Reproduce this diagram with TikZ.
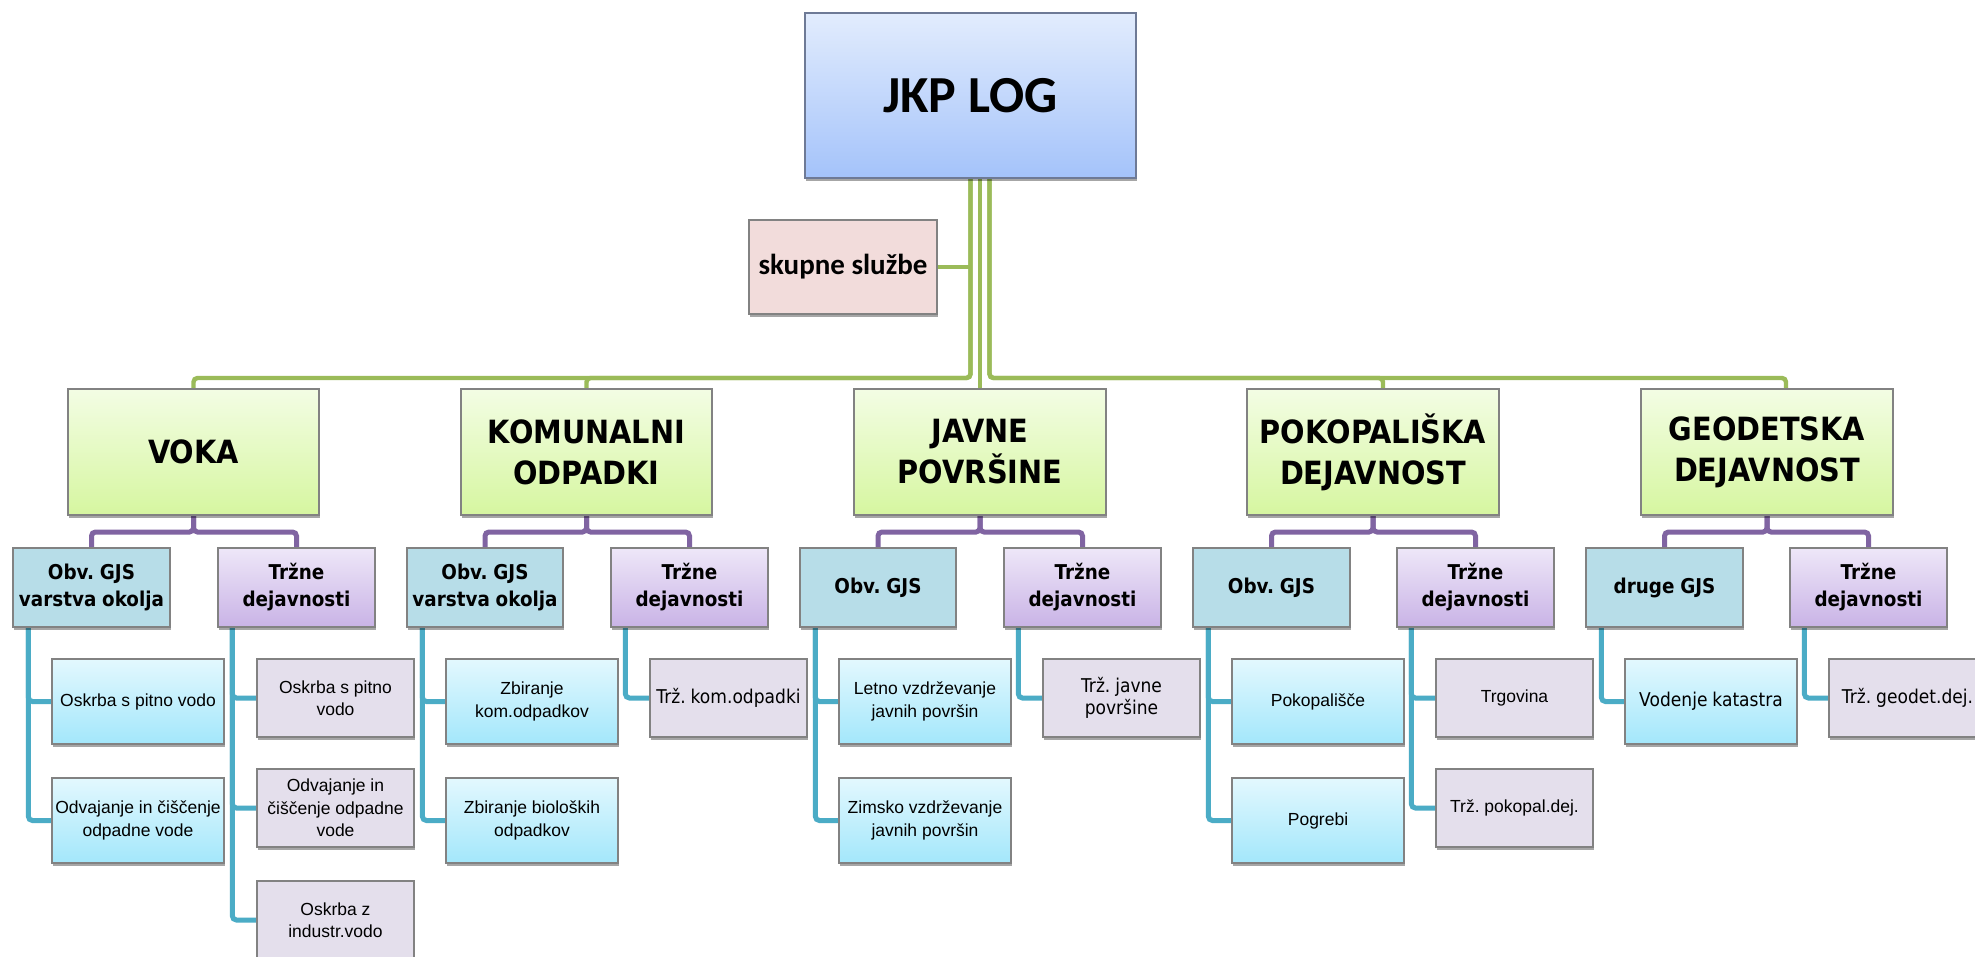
\documentclass[tikz,border=0pt]{standalone}
\usepackage{fontspec}
\setmainfont{Liberation Sans}
\newfontfamily\calfont{Carlito}
\newfontfamily\tahfont[FakeStretch=0.9,WordSpace=0.9]{DejaVu Sans}
\usetikzlibrary{shadows}
\pgfdeclarelayer{bg}
\pgfsetlayers{bg,main}
\definecolor{jkptop}{RGB}{226,236,253}
\definecolor{jkpbot}{RGB}{164,195,250}
\definecolor{jkpborder}{RGB}{110,122,150}
\definecolor{lvtop}{RGB}{243,253,228}
\definecolor{lvbot}{RGB}{214,246,160}
\definecolor{skfill}{RGB}{242,220,219}
\definecolor{obvfill}{RGB}{183,221,232}
\definecolor{trtop}{RGB}{238,231,248}
\definecolor{trbot}{RGB}{201,179,230}
\definecolor{bltop}{RGB}{227,248,254}
\definecolor{blbot}{RGB}{163,231,251}
\definecolor{plfill}{RGB}{228,223,236}
\definecolor{boxborder}{RGB}{130,130,130}
\definecolor{gcol}{RGB}{155,187,89}
\definecolor{pcol}{RGB}{128,100,162}
\definecolor{bcol}{RGB}{75,172,198}
\tikzset{
  x=0.5pt, y=-0.5pt,
  box/.style={rectangle, draw=boxborder, line width=0.6pt, inner sep=0pt, align=center,
    drop shadow={shadow xshift=0.6pt, shadow yshift=-1.5pt, opacity=0.35, fill=black}},
  jkpbox/.style={box, top color=jkptop, bottom color=jkpbot, draw=jkpborder,
    font=\calfont\bfseries\fontsize{26}{30}\selectfont},
  skbox/.style={box, fill=skfill, font=\calfont\bfseries\fontsize{14.5}{17}\selectfont},
  lvbox/.style={box, top color=lvtop, bottom color=lvbot,
    font=\tahfont\bfseries\fontsize{16}{20.5}\selectfont},
  obvbox/.style={box, fill=obvfill, font=\tahfont\bfseries\fontsize{10.2}{13.5}\selectfont},
  trbox/.style={box, top color=trtop, bottom color=trbot,
    font=\tahfont\bfseries\fontsize{10.2}{13.5}\selectfont},
  blleaf/.style={box, top color=bltop, bottom color=blbot, font=\fontsize{8.75}{11.25}\selectfont},
  plleaf/.style={box, fill=plfill, font=\fontsize{8.75}{11.25}\selectfont},
  tahtext/.style={font=\tahfont\fontsize{9.5}{11.25}\selectfont},
  gline/.style={draw=gcol, line width=2.2pt, rounded corners=2pt},
  pline/.style={draw=pcol, line width=2.5pt, rounded corners=2pt},
  bline/.style={draw=bcol, line width=2.5pt, rounded corners=2pt},
}
\newcommand{\bx}[7]{\node[#2, minimum width={(#5-#3)*0.5pt}, minimum height={(#6-#4)*0.5pt}] (#1) at ({(#3+#5)/2},{(#4+#6)/2}) {#7};}
\begin{document}
\frenchspacing
\begin{tikzpicture}
\useasboundingbox (0,0) rectangle (1975,957);
\begin{pgfonlayer}{bg}
\fill[white] (0,0) rectangle (1975,957);
\end{pgfonlayer}
% top
\bx{jkp}{jkpbox}{805}{13}{1136}{178}{JKP LOG}
\bx{sk}{skbox}{749}{220}{937}{314}{skupne službe}
% level 2
\bx{voka}{lvbox}{68}{389}{319}{515}{VOKA}
\bx{kom}{lvbox}{461}{389}{712}{515}{KOMUNALNI\\ODPADKI}
\bx{jav}{lvbox}{854}{389}{1106}{515}{JAVNE\\POVRŠINE}
\bx{pok}{lvbox}{1247}{389}{1499}{515}{POKOPALIŠKA\\DEJAVNOST}
\bx{geo}{lvbox}{1641}{389}{1893}{515}{GEODETSKA\\DEJAVNOST}
% level 3
\bx{o1}{obvbox}{13}{548}{170}{627}{Obv. GJS\\varstva okolja}
\bx{t1}{trbox}{218}{548}{375}{627}{Tržne\\dejavnosti}
\bx{o2}{obvbox}{407}{548}{563}{627}{Obv. GJS\\varstva okolja}
\bx{t2}{trbox}{611}{548}{768}{627}{Tržne\\dejavnosti}
\bx{o3}{obvbox}{800}{548}{956}{627}{Obv. GJS}
\bx{t3}{trbox}{1004}{548}{1161}{627}{Tržne\\dejavnosti}
\bx{o4}{obvbox}{1193}{548}{1350}{627}{Obv. GJS}
\bx{t4}{trbox}{1397}{548}{1554}{627}{Tržne\\dejavnosti}
\bx{o5}{obvbox}{1586}{548}{1743}{627}{druge GJS}
\bx{t5}{trbox}{1790}{548}{1947}{627}{Tržne\\dejavnosti}
% leaves VOKA
\bx{b11}{blleaf}{52}{659}{224}{744}{Oskrba s pitno vodo}
\bx{b12}{blleaf}{52}{778}{224}{863}{Odvajanje in čiščenje\\odpadne vode}
\bx{p11}{plleaf}{257}{659}{414}{737}{Oskrba s pitno\\vodo}
\bx{p12}{plleaf}{257}{769}{414}{847}{Odvajanje in\\čiščenje odpadne\\vode}
\bx{p13}{plleaf}{257}{881}{414}{959}{Oskrba z\\industr.vodo}
% leaves KOMUNALNI
\bx{b21}{blleaf}{446}{659}{618}{744}{Zbiranje\\kom.odpadkov}
\bx{b22}{blleaf}{446}{778}{618}{863}{Zbiranje bioloških\\odpadkov}
\bx{p21}{plleaf,tahtext}{650}{659}{807}{737}{Trž. kom.odpadki}
% leaves JAVNE
\bx{b31}{blleaf}{839}{659}{1011}{744}{Letno vzdrževanje\\javnih površin}
\bx{b32}{blleaf}{839}{778}{1011}{863}{Zimsko vzdrževanje\\javnih površin}
\bx{p31}{plleaf,tahtext}{1043}{659}{1200}{737}{Trž. javne\\površine}
% leaves POKOPALISKA
\bx{b41}{blleaf}{1232}{659}{1404}{744}{Pokopališče}
\bx{b42}{blleaf}{1232}{778}{1404}{863}{Pogrebi}
\bx{p41}{plleaf}{1436}{659}{1593}{737}{Trgovina}
\bx{p42}{plleaf}{1436}{769}{1593}{847}{Trž. pokopal.dej.}
% leaves GEODETSKA
\bx{b51}{blleaf,tahtext}{1625}{659}{1797}{744}{Vodenje katastra}
\bx{p51}{plleaf,tahtext}{1829}{659}{1986}{737}{Trž. geodet.dej.}
% connectors
\begin{pgfonlayer}{bg}
\coordinate (bus) at (0,378);
\coordinate (pbus) at (0,532);
\coordinate (jr) at ([xshift=9.5pt]jkp.south);
\draw[gline] (sk.east) -- (sk.east -| jkp.south);
\draw[gline] (jkp.south) -- (jkp.south |- bus) -| (voka.north);
\draw[gline] (jkp.south) -- (jkp.south |- bus) -| (kom.north);
\draw[gline] (jav.north |- jkp.south) -- (jav.north);
\draw[gline] (jr) |- ([xshift=5pt]pok.north |- bus) -- ([xshift=5pt]pok.north);
\draw[gline] (jr) |- ([xshift=9.5pt]geo.north |- bus) -- ([xshift=9.5pt]geo.north);
\foreach \p/\a/\b in {voka/o1/t1, kom/o2/t2, jav/o3/t3, pok/o4/t4, geo/o5/t5}{
  \draw[pline] (\p.south) -- (\p.south |- pbus) -| (\a.north);
  \draw[pline] (\p.south) -- (\p.south |- pbus) -| (\b.north);
}
\foreach \o/\l in {o1/b11, o1/b12, o2/b21, o2/b22, o3/b31, o3/b32, o4/b41, o4/b42, o5/b51}{
  \draw[bline] ([xshift=8pt]\o.south west) |- (\l.west);
}
\foreach \t/\l in {t1/p11, t1/p12, t1/p13, t2/p21, t3/p31, t4/p41, t4/p42, t5/p51}{
  \draw[bline] ([xshift=7.5pt]\t.south west) |- (\l.west);
}
\end{pgfonlayer}
\end{tikzpicture}
\end{document}
